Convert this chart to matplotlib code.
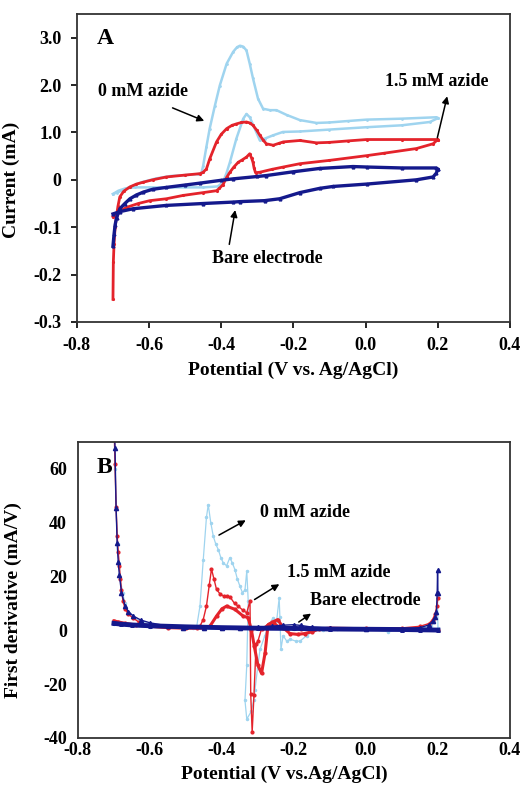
import matplotlib
matplotlib.use("Agg")
import matplotlib.pyplot as plt

# ---- panel A : cyclic voltammograms (current, mA) ----
a_pot_0mM_fwd = [-0.700, -0.690, -0.676, -0.653, -0.620, -0.580, -0.540, -0.500, -0.465, -0.455,
                 -0.450, -0.441, -0.432, -0.418, -0.404, -0.385, -0.367, -0.356, -0.348, -0.339,
                 -0.330, -0.321, -0.312, -0.298, -0.284, -0.265, -0.247, -0.219, -0.182, -0.136,
                 -0.100, -0.050, 0.003, 0.100, 0.196, 0.200]
a_cur_0mM_fwd = [-0.30, -0.27, -0.23, -0.15, -0.05, 0.03, 0.08, 0.10, 0.12, 0.14,
                 0.30, 0.70, 1.08, 1.55, 1.99, 2.45, 2.70, 2.80, 2.83, 2.81,
                 2.73, 2.45, 2.14, 1.71, 1.50, 1.47, 1.47, 1.37, 1.26, 1.20,
                 1.21, 1.24, 1.27, 1.29, 1.32, 1.30]
a_pot_0mM_rev = [0.200, 0.178, 0.100, 0.003, -0.100, -0.182, -0.229, -0.256, -0.279, -0.293,
                 -0.307, -0.321, -0.330, -0.339, -0.358, -0.376, -0.385, -0.395, -0.410, -0.450,
                 -0.500, -0.550, -0.600, -0.640, -0.665, -0.685, -0.700]
a_cur_0mM_rev = [1.30, 1.22, 1.15, 1.11, 1.06, 1.02, 1.01, 0.94, 0.87, 0.83,
                 1.08, 1.32, 1.39, 1.29, 0.87, 0.37, 0.15, -0.05, -0.14, -0.16,
                 -0.16, -0.16, -0.16, -0.16, -0.18, -0.23, -0.30]

a_pot_15mM_fwd = [-0.700, -0.699, -0.697, -0.694, -0.690, -0.686, -0.681, -0.670, -0.653, -0.635,
                  -0.616, -0.590, -0.552, -0.500, -0.459, -0.450, -0.441, -0.432, -0.413, -0.400,
                  -0.385, -0.370, -0.358, -0.344, -0.330, -0.321, -0.312, -0.302, -0.293, -0.284,
                  -0.275, -0.256, -0.240, -0.228, -0.182, -0.136, -0.100, -0.050, 0.003, 0.100,
                  0.196, 0.200]
a_cur_15mM_fwd = [-2.52, -1.74, -1.35, -1.00, -0.75, -0.55, -0.36, -0.24, -0.15, -0.09,
                  -0.05, 0.00, 0.06, 0.10, 0.13, 0.16, 0.23, 0.44, 0.80, 0.96,
                  1.08, 1.15, 1.18, 1.21, 1.22, 1.20, 1.15, 1.05, 0.94, 0.84,
                  0.76, 0.73, 0.77, 0.80, 0.83, 0.78, 0.79, 0.82, 0.85, 0.85,
                  0.85, 0.85]
a_pot_15mM_rev = [0.200, 0.187, 0.141, 0.050, 0.003, -0.100, -0.182, -0.228, -0.260, -0.293,
                  -0.305, -0.309, -0.312, -0.316, -0.321, -0.330, -0.342, -0.353, -0.365, -0.376,
                  -0.385, -0.395, -0.405, -0.413, -0.450, -0.506, -0.552, -0.598, -0.630, -0.662,
                  -0.685, -0.700]
a_cur_15mM_rev = [0.85, 0.76, 0.66, 0.56, 0.51, 0.41, 0.34, 0.27, 0.22, 0.16,
                  0.15, 0.25, 0.37, 0.46, 0.55, 0.48, 0.42, 0.37, 0.27, 0.16,
                  0.05, -0.10, -0.18, -0.23, -0.27, -0.33, -0.40, -0.44, -0.50, -0.58,
                  -0.68, -0.78]

a_pot_bare_fwd = [-0.700, -0.697, -0.694, -0.690, -0.681, -0.667, -0.653, -0.635, -0.616, -0.590,
                  -0.552, -0.500, -0.459, -0.400, -0.367, -0.300, -0.275, -0.200, -0.127, -0.035,
                  0.003, 0.100, 0.196, 0.200]
a_cur_bare_fwd = [-1.40, -1.15, -0.95, -0.80, -0.61, -0.50, -0.40, -0.32, -0.26, -0.20,
                  -0.16, -0.11, -0.07, -0.01, 0.02, 0.07, 0.09, 0.17, 0.24, 0.28,
                  0.27, 0.25, 0.25, 0.22]
a_pot_bare_rev = [0.200, 0.196, 0.187, 0.141, 0.003, -0.090, -0.127, -0.182, -0.238, -0.280,
                  -0.348, -0.367, -0.450, -0.552, -0.644, -0.680, -0.700]
a_cur_bare_rev = [0.22, 0.14, 0.06, 0.00, -0.09, -0.14, -0.18, -0.27, -0.40, -0.44,
                  -0.46, -0.47, -0.50, -0.54, -0.61, -0.67, -0.72]

a_yticks = [3, 2, 1, 0, -1, -2, -3]
a_yticklabels = ["3.0", "2.0", "1.0", "0", "-0.1", "-0.2", "-0.3"]

# ---- panel B : first derivative (mA/V) ----
b_pot_0mM_fwd = [-0.700, -0.697, -0.694, -0.690, -0.686, -0.682, -0.676, -0.669, -0.660, -0.646,
                 -0.630, -0.600, -0.550, -0.507, -0.480, -0.470, -0.461, -0.452, -0.443, -0.438,
                 -0.431, -0.424, -0.417, -0.410, -0.403, -0.396, -0.387, -0.378, -0.371, -0.364,
                 -0.357, -0.350, -0.343, -0.336, -0.331, -0.327, -0.331, -0.336, -0.331, -0.318,
                 -0.312, -0.308, -0.301, -0.294, -0.281, -0.267, -0.258, -0.248, -0.241, -0.239,
                 -0.236, -0.230, -0.220, -0.211, -0.195, -0.183, -0.165, -0.146, -0.120, -0.080,
                 0.000, 0.060, 0.100, 0.150, 0.180, 0.190, 0.196, 0.199, 0.200]
b_der_0mM_fwd = [78, 60, 45, 32, 25, 19, 14, 10, 7, 5,
                 3.5, 2.2, 1.4, 1.0, 0.9, 1.5, 9, 26, 42, 46.7,
                 40, 35, 32, 30, 27, 25, 24, 27, 25, 22.6,
                 19, 16.4, 14, 15, 22, 11, -13, -26, -33, -30,
                 -26, -22, -14, -7, -2.1, 2.8, 4.5, 3.5, 12, 5,
                 -7, -2, -4, -3.3, -4, -4, -2, -0.2, 0.2, 0.5,
                 0.6, -0.5, 0.5, 0.8, 1.5, 3, 6, 12, 1]
b_pot_0mM_rev = [0.200, 0.100, 0.000, -0.100, -0.200, -0.300, -0.400, -0.500, -0.600, -0.650, -0.680, -0.700]
b_der_0mM_rev = [0.3, 0.4, 0.4, 0.5, 0.6, 0.6, 0.7, 0.9, 1.3, 1.8, 2.2, 2.5]

b_pot_15mM_fwd = [-0.700, -0.697, -0.694, -0.691, -0.688, -0.685, -0.682, -0.679, -0.675, -0.669,
                  -0.660, -0.646, -0.630, -0.600, -0.550, -0.507, -0.470, -0.461, -0.452, -0.443,
                  -0.435, -0.429, -0.422, -0.415, -0.405, -0.395, -0.387, -0.378, -0.365, -0.355,
                  -0.342, -0.331, -0.322, -0.320, -0.316, -0.311, -0.305, -0.300, -0.290, -0.270,
                  -0.255, -0.240, -0.220, -0.180, -0.150, -0.100, 0.000, 0.100, 0.150, 0.175,
                  0.185, 0.192, 0.197, 0.200]
b_der_15mM_fwd = [80, 62, 46, 35, 29, 24, 19, 15, 11, 8,
                  6, 4.5, 3, 1.8, 1.1, 0.9, 0.9, 1.6, 4, 9,
                  17, 22.8, 19, 15.2, 13.5, 12.7, 12.7, 12.5, 10, 9,
                  7.5, 6.5, 11, -23.7, -37.8, -24, -5, -4, 0.5, 2.5,
                  2.8, 1.5, 0.5, 0.6, 0.6, 0.7, 0.8, 0.9, 1.5, 2.5,
                  4, 6, 9, 12]
b_pot_15mM_rev = [0.200, 0.150, 0.100, 0.000, -0.100, -0.130, -0.150, -0.170, -0.190, -0.211,
                  -0.230, -0.245, -0.260, -0.272, -0.280, -0.290, -0.300, -0.310, -0.318, -0.327,
                  -0.341, -0.364, -0.387, -0.400, -0.415, -0.433, -0.450, -0.500, -0.550, -0.600,
                  -0.640, -0.670, -0.690, -0.700]
b_der_15mM_rev = [0.2, 0.3, 0.4, 0.6, 0.8, 0.5, -0.5, -1.2, -1.5, -1.2,
                  1.0, 4.0, 3.0, 2.0, -8.3, -16, -13, -6, 0, 4.7,
                  5.3, 7.8, 9, 8, 5.3, 1.6, 0.8, 0.8, 1.0, 1.5,
                  2.0, 2.6, 3.2, 3.5]

b_pot_bare_fwd = [-0.700, -0.697, -0.694, -0.691, -0.688, -0.685, -0.679, -0.669, -0.660, -0.646,
                  -0.625, -0.600, -0.550, -0.507, -0.450, -0.400, -0.350, -0.300, -0.260, -0.230,
                  -0.200, -0.180, -0.150, -0.100, 0.000, 0.100, 0.150, 0.175, 0.185, 0.192,
                  0.196, 0.198, 0.199, 0.200]
b_der_bare_fwd = [85, 67.7, 45.4, 32.5, 25.3, 20.7, 14, 9, 7, 5.3,
                  3.8, 2.8, 1.6, 1.0, 0.8, 0.8, 0.9, 1.2, 1.6, 1.9,
                  2.1, 1.8, 1.2, 0.8, 0.6, 0.6, 1.0, 2.0, 3.5, 5,
                  7, 14, 22.3, 14]
b_pot_bare_rev = [0.200, 0.150, 0.100, 0.000, -0.100, -0.200, -0.300, -0.400, -0.500, -0.600, -0.650, -0.680, -0.700]
b_der_bare_rev = [0.1, 0.2, 0.3, 0.4, 0.5, 0.7, 0.8, 1.0, 1.3, 1.7, 2.0, 2.3, 2.6]

xticks = [-0.8, -0.6, -0.4, -0.2, 0.0, 0.2, 0.4]

LBLUE = "#9fd4ef"
RED = "#e4232b"
NAVY = "#14198c"

plt.rcParams['font.family'] = ['Liberation Serif', 'DejaVu Serif']
plt.rcParams['font.weight'] = 'bold'
plt.rcParams['axes.unicode_minus'] = False

fig = plt.figure(figsize=(5.23, 7.88), dpi=100)

# ---------------- panel A ----------------
ax1 = fig.add_axes([0.147, 0.5914, 0.828, 0.3909])
ax1.plot(a_pot_0mM_fwd, a_cur_0mM_fwd, color=LBLUE, lw=1.8, marker='.', ms=2)
ax1.plot(a_pot_0mM_rev, a_cur_0mM_rev, color=LBLUE, lw=1.8, marker='.', ms=2)
ax1.plot(a_pot_15mM_fwd, a_cur_15mM_fwd, color=RED, lw=2.0, marker='.', ms=2.5)
ax1.plot(a_pot_15mM_rev, a_cur_15mM_rev, color=RED, lw=2.0, marker='.', ms=2.5)
ax1.plot(a_pot_bare_fwd, a_cur_bare_fwd, color=NAVY, lw=2.4, marker='^', ms=2)
ax1.plot(a_pot_bare_rev, a_cur_bare_rev, color=NAVY, lw=2.4, marker='^', ms=2)

ax1.set_xlim(-0.8, 0.4)
ax1.set_ylim(-3, 3.5)
ax1.set_xticks(xticks)
ax1.set_xticklabels(["%.1f" % v for v in xticks])
ax1.set_yticks(a_yticks)
ax1.set_yticklabels(a_yticklabels)
ax1.tick_params(direction='out', length=4, width=1.2, labelsize=13, pad=7)
ax1.set_xlabel("Potential (V vs. Ag/AgCl)", fontsize=14, fontweight='bold')
ax1.set_ylabel("Current (mA)", fontsize=14, fontweight='bold')
ax1.xaxis.set_label_coords(0.5, -0.13)
ax1.yaxis.set_label_coords(-0.132, 0.46)

ax1.text(-0.745, 2.98, "A", fontsize=17, fontweight='bold', va='center')
ax1.text(-0.742, 1.86, "0 mM azide", fontsize=13, fontweight='bold', va='center')
ax1.annotate("", xy=(-0.440, 1.22), xytext=(-0.542, 1.54),
             arrowprops=dict(arrowstyle='-|>', color='black', lw=1.1, mutation_scale=10))
ax1.text(0.053, 2.07, "1.5 mM azide", fontsize=13, fontweight='bold', va='center')
ax1.annotate("", xy=(0.228, 1.82), xytext=(0.197, 0.83),
             arrowprops=dict(arrowstyle='-|>', color='black', lw=1.1, mutation_scale=10))
ax1.text(-0.426, -1.65, "Bare electrode", fontsize=13, fontweight='bold', va='center')
ax1.annotate("", xy=(-0.360, -0.58), xytext=(-0.379, -1.42),
             arrowprops=dict(arrowstyle='-|>', color='black', lw=1.1, mutation_scale=10))

# ---------------- panel B ----------------
ax2 = fig.add_axes([0.149, 0.0635, 0.826, 0.3756])
ax2.plot(b_pot_0mM_fwd, b_der_0mM_fwd, color=LBLUE, lw=0.9, marker='.', ms=3)
ax2.plot(b_pot_0mM_rev, b_der_0mM_rev, color=LBLUE, lw=2.0, marker='.', ms=3)
ax2.plot(b_pot_15mM_fwd, b_der_15mM_fwd, color=RED, lw=1.0, marker='.', ms=4)
ax2.plot(b_pot_15mM_rev, b_der_15mM_rev, color=RED, lw=2.2, marker='.', ms=4)
ax2.plot(b_pot_bare_fwd, b_der_bare_fwd, color=NAVY, lw=1.0, marker='^', ms=3)
ax2.plot(b_pot_bare_rev, b_der_bare_rev, color=NAVY, lw=3.5, marker='^', ms=2.5)

ax2.set_xlim(-0.8, 0.4)
ax2.set_ylim(-40, 70)
ax2.set_xticks(xticks)
ax2.set_xticklabels(["%.1f" % v for v in xticks])
ax2.set_yticks([-40, -20, 0, 20, 40, 60])
ax2.tick_params(direction='in', length=0, labelsize=13, pad=3)
ax2.tick_params(axis='y', pad=8)
ax2.set_xlabel("Potential (V vs.Ag/AgCl)", fontsize=14, fontweight='bold')
ax2.set_ylabel("First derivative (mA/V)", fontsize=14, fontweight='bold')
ax2.xaxis.set_label_coords(0.477, -0.095)
ax2.yaxis.set_label_coords(-0.13, 0.466)

ax2.text(-0.748, 60.7, "B", fontsize=17, fontweight='bold', va='center')
ax2.text(-0.294, 43.7, "0 mM azide", fontsize=13, fontweight='bold', va='center')
ax2.annotate("", xy=(-0.327, 41.4), xytext=(-0.415, 34.9),
             arrowprops=dict(arrowstyle='-|>', color='black', lw=1.1, mutation_scale=10))
ax2.text(-0.220, 21.4, "1.5 mM azide", fontsize=13, fontweight='bold', va='center')
ax2.annotate("", xy=(-0.234, 17.7), xytext=(-0.316, 10.9),
             arrowprops=dict(arrowstyle='-|>', color='black', lw=1.1, mutation_scale=10))
ax2.text(-0.156, 11.2, "Bare electrode", fontsize=13, fontweight='bold', va='center')
ax2.annotate("", xy=(-0.146, 6.8), xytext=(-0.193, 2.5),
             arrowprops=dict(arrowstyle='-|>', color='black', lw=1.1, mutation_scale=10))

for ax in (ax1, ax2):
    for sp in ax.spines.values():
        sp.set_linewidth(1.3)
        sp.set_color('#333333')

fig.savefig("out.png", dpi=100)
